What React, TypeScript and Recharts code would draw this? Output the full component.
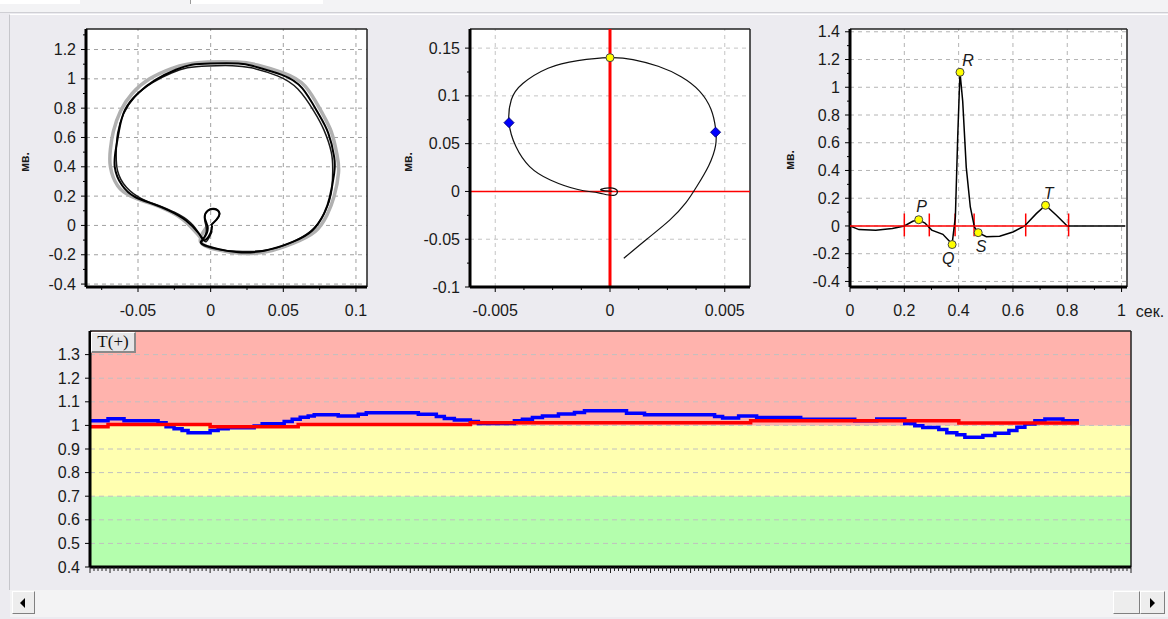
import React from 'react';
import {
  ScatterChart, Scatter, ComposedChart, Line, Area, XAxis, YAxis,
  CartesianGrid, ReferenceLine,
} from 'recharts';

const FONT = '"Liberation Sans", Arial, sans-serif';

// ---- QRS loop (several overlapping cycles) ----
const loopMain = [
  { x: 0.0, y: 0.0 }, { x: 0.004, y: 0.04 }, { x: 0.006, y: 0.08 }, { x: 0.003, y: 0.11 },
  { x: -0.002, y: 0.1 }, { x: -0.004, y: 0.05 }, { x: -0.002, y: -0.02 }, { x: -0.005, y: -0.09 },
  { x: -0.006, y: -0.125 }, { x: 0.005, y: -0.16 }, { x: 0.019, y: -0.183 }, { x: 0.037, y: -0.172 },
  { x: 0.056, y: -0.114 }, { x: 0.07, y: -0.034 }, { x: 0.078, y: 0.08 }, { x: 0.082, y: 0.194 },
  { x: 0.085, y: 0.354 }, { x: 0.085, y: 0.468 }, { x: 0.081, y: 0.628 }, { x: 0.074, y: 0.765 },
  { x: 0.063, y: 0.936 }, { x: 0.049, y: 1.027 }, { x: 0.03, y: 1.085 }, { x: 0.019, y: 1.105 },
  { x: 0.0, y: 1.105 }, { x: -0.013, y: 1.096 }, { x: -0.024, y: 1.062 }, { x: -0.038, y: 0.993 },
  { x: -0.05, y: 0.902 }, { x: -0.059, y: 0.788 }, { x: -0.063, y: 0.65 }, { x: -0.065, y: 0.536 },
  { x: -0.066, y: 0.4 }, { x: -0.061, y: 0.274 }, { x: -0.052, y: 0.194 }, { x: -0.04, y: 0.148 },
  { x: -0.029, y: 0.103 }, { x: -0.017, y: 0.034 }, { x: -0.008, y: -0.057 }, { x: -0.004, y: -0.1 },
  { x: 0.0, y: -0.05 }, { x: 0.001, y: 0.0 },
];
const loopSecond = [
  { x: 0.001, y: 0.01 }, { x: 0.005, y: 0.05 }, { x: 0.006, y: 0.09 }, { x: 0.002, y: 0.115 },
  { x: -0.003, y: 0.09 }, { x: -0.004, y: 0.03 }, { x: -0.003, y: -0.04 }, { x: -0.006, y: -0.11 },
  { x: -0.004, y: -0.14 }, { x: 0.008, y: -0.17 }, { x: 0.022, y: -0.178 }, { x: 0.04, y: -0.165 },
  { x: 0.058, y: -0.105 }, { x: 0.071, y: -0.02 }, { x: 0.079, y: 0.1 }, { x: 0.083, y: 0.22 },
  { x: 0.084, y: 0.37 }, { x: 0.083, y: 0.5 }, { x: 0.078, y: 0.65 }, { x: 0.071, y: 0.78 },
  { x: 0.06, y: 0.93 }, { x: 0.046, y: 1.02 }, { x: 0.028, y: 1.075 }, { x: 0.015, y: 1.09 },
  { x: -0.002, y: 1.088 }, { x: -0.016, y: 1.075 }, { x: -0.027, y: 1.04 }, { x: -0.04, y: 0.975 },
  { x: -0.052, y: 0.88 }, { x: -0.06, y: 0.76 }, { x: -0.064, y: 0.63 }, { x: -0.065, y: 0.5 },
  { x: -0.064, y: 0.37 }, { x: -0.058, y: 0.26 }, { x: -0.048, y: 0.185 }, { x: -0.036, y: 0.135 },
  { x: -0.025, y: 0.09 }, { x: -0.014, y: 0.02 }, { x: -0.007, y: -0.07 }, { x: -0.003, y: -0.11 },
  { x: 0.001, y: -0.04 },
];
const loopGray = [
  { x: -0.002, y: 0.0 }, { x: -0.007, y: -0.11 }, { x: 0.004, y: -0.165 }, { x: 0.02, y: -0.19 },
  { x: 0.038, y: -0.18 }, { x: 0.057, y: -0.12 }, { x: 0.072, y: -0.04 }, { x: 0.08, y: 0.07 },
  { x: 0.085, y: 0.2 }, { x: 0.088, y: 0.36 }, { x: 0.087, y: 0.48 }, { x: 0.083, y: 0.64 },
  { x: 0.076, y: 0.78 }, { x: 0.065, y: 0.95 }, { x: 0.05, y: 1.04 }, { x: 0.032, y: 1.095 },
  { x: 0.018, y: 1.115 }, { x: -0.002, y: 1.115 }, { x: -0.016, y: 1.1 }, { x: -0.027, y: 1.07 },
  { x: -0.042, y: 1.0 }, { x: -0.054, y: 0.9 }, { x: -0.062, y: 0.78 }, { x: -0.067, y: 0.64 },
  { x: -0.069, y: 0.52 }, { x: -0.069, y: 0.4 }, { x: -0.064, y: 0.27 }, { x: -0.055, y: 0.2 },
  { x: -0.043, y: 0.155 }, { x: -0.031, y: 0.11 }, { x: -0.019, y: 0.04 }, { x: -0.009, y: -0.06 },
  { x: -0.005, y: -0.11 },
];
const loopXTicks = [-0.075, -0.05, -0.025, 0, 0.025, 0.05, 0.075, 0.1];
const loopXLabels = [-0.05, 0, 0.05, 0.1];
const loopYTicks = [-0.4, -0.3, -0.2, -0.1, 0, 0.1, 0.2, 0.3, 0.4, 0.5, 0.6, 0.7, 0.8, 0.9, 1, 1.1, 1.2, 1.3];
const loopYLabels = [-0.4, -0.2, 0, 0.2, 0.4, 0.6, 0.8, 1, 1.2];

// ---- T loop ----
const tLoop = [
  { x: 0.0006, y: -0.07 }, { x: 0.0016, y: -0.05 }, { x: 0.0026, y: -0.03 }, { x: 0.0033, y: -0.012 },
  { x: 0.0038, y: 0.006 }, { x: 0.0043, y: 0.027 }, { x: 0.0046, y: 0.048 }, { x: 0.0046, y: 0.066 },
  { x: 0.0044, y: 0.086 }, { x: 0.0039, y: 0.105 }, { x: 0.0031, y: 0.12 }, { x: 0.0021, y: 0.131 },
  { x: 0.001, y: 0.138 }, { x: 0.0, y: 0.14 }, { x: -0.0014, y: 0.137 }, { x: -0.0027, y: 0.129 },
  { x: -0.0038, y: 0.113 }, { x: -0.0043, y: 0.096 }, { x: -0.0044, y: 0.072 }, { x: -0.0041, y: 0.047 },
  { x: -0.0035, y: 0.026 }, { x: -0.0026, y: 0.012 }, { x: -0.0014, y: 0.002 }, { x: -0.0005, y: -0.0015 },
  { x: 0.0002, y: -0.004 }, { x: 0.0002, y: 0.003 }, { x: -0.0004, y: 0.002 }, { x: 0.0001, y: 0.0 },
];
const tLoopApex = [{ x: 0.0, y: 0.14 }];
const tLoopSides = [{ x: -0.0044, y: 0.072 }, { x: 0.0046, y: 0.062 }];
const tXTicks = [-0.005, -0.00375, -0.0025, -0.00125, 0, 0.00125, 0.0025, 0.00375, 0.005];
const tXLabels = [-0.005, 0, 0.005];
const tYTicks = [-0.1, -0.075, -0.05, -0.025, 0, 0.025, 0.05, 0.075, 0.1, 0.125, 0.15];
const tYLabels = [-0.1, -0.05, 0, 0.05, 0.1, 0.15];

// ---- averaged ECG complex ----
const ecg = [
  { x: 0, y: 0 }, { x: 0.033, y: -0.026 }, { x: 0.095, y: -0.03 }, { x: 0.156, y: -0.019 },
  { x: 0.2, y: 0 }, { x: 0.231, y: 0.034 }, { x: 0.253, y: 0.045 }, { x: 0.276, y: 0.021 },
  { x: 0.301, y: -0.03 }, { x: 0.342, y: -0.06 }, { x: 0.376, y: -0.13 }, { x: 0.388, y: 0.065 },
  { x: 0.397, y: 0.665 }, { x: 0.405, y: 1.108 }, { x: 0.415, y: 0.9 }, { x: 0.428, y: 0.424 },
  { x: 0.443, y: 0.137 }, { x: 0.458, y: -0.007 }, { x: 0.472, y: -0.048 }, { x: 0.502, y: -0.078 },
  { x: 0.551, y: -0.074 }, { x: 0.6, y: -0.043 }, { x: 0.643, y: 0 }, { x: 0.686, y: 0.089 },
  { x: 0.72, y: 0.149 }, { x: 0.76, y: 0.077 }, { x: 0.8, y: 0 }, { x: 1.013, y: 0 },
];
const ecgPeaks = [
  { x: 0.253, y: 0.045, name: 'P' },
  { x: 0.376, y: -0.134, name: 'Q' },
  { x: 0.405, y: 1.108, name: 'R' },
  { x: 0.472, y: -0.048, name: 'S' },
  { x: 0.72, y: 0.149, name: 'T' },
];
const ecgBaseline = [{ x: 0, y: 0 }, { x: 0.805, y: 0 }];
const ecgMarks = [0.2, 0.292, 0.387, 0.457, 0.647, 0.805];
const ecgXTicks = [0, 0.1, 0.2, 0.3, 0.4, 0.5, 0.6, 0.7, 0.8, 0.9, 1];
const ecgXLabels = [0, 0.2, 0.4, 0.6, 0.8, 1];
const ecgYTicks = [-0.4, -0.3, -0.2, -0.1, 0, 0.1, 0.2, 0.3, 0.4, 0.5, 0.6, 0.7, 0.8, 0.9, 1, 1.1, 1.2, 1.3, 1.4];
const ecgYLabels = [-0.4, -0.2, 0, 0.2, 0.4, 0.6, 0.8, 1, 1.2, 1.4];

// ---- T(+) trend ----
const trendBlue = [
  { x: 0, v: 1.02 }, { x: 4.5, v: 1.028 }, { x: 8.5, v: 1.02 }, { x: 17, v: 1.011 },
  { x: 19, v: 0.994 }, { x: 21, v: 0.986 }, { x: 23, v: 0.978 }, { x: 24.5, v: 0.969 },
  { x: 30, v: 0.978 }, { x: 32, v: 0.986 }, { x: 34.5, v: 0.99 }, { x: 41, v: 0.997 },
  { x: 43, v: 1.007 }, { x: 48.5, v: 1.017 }, { x: 50.5, v: 1.026 }, { x: 52.5, v: 1.035 },
  { x: 54.5, v: 1.04 }, { x: 56, v: 1.045 }, { x: 62, v: 1.04 }, { x: 67, v: 1.047 },
  { x: 69, v: 1.054 }, { x: 82, v: 1.047 }, { x: 86.5, v: 1.038 }, { x: 88.5, v: 1.029 },
  { x: 91, v: 1.023 }, { x: 95, v: 1.016 }, { x: 97, v: 1.008 }, { x: 106, v: 1.02 },
  { x: 108, v: 1.026 }, { x: 110.5, v: 1.033 }, { x: 113, v: 1.04 }, { x: 117, v: 1.048 },
  { x: 121, v: 1.055 }, { x: 123.5, v: 1.062 }, { x: 134, v: 1.052 }, { x: 138.5, v: 1.045 },
  { x: 156, v: 1.038 }, { x: 158, v: 1.031 }, { x: 162, v: 1.04 }, { x: 166.5, v: 1.033 },
  { x: 177.5, v: 1.026 }, { x: 191, v: 1.02 }, { x: 196.5, v: 1.027 }, { x: 203.5, v: 1.008 },
  { x: 206, v: 0.999 }, { x: 208, v: 0.991 }, { x: 212, v: 0.983 }, { x: 214, v: 0.969 },
  { x: 216.5, v: 0.96 }, { x: 218.5, v: 0.95 }, { x: 223, v: 0.957 }, { x: 226, v: 0.967 },
  { x: 229.5, v: 0.978 }, { x: 231.5, v: 0.992 }, { x: 233.5, v: 1.006 }, { x: 236, v: 1.02 },
  { x: 238.5, v: 1.027 }, { x: 243, v: 1.02 }, { x: 247, v: 1.02 },
];
const trendRed = [
  { x: 0, v: 0.994 }, { x: 4.5, v: 1.004 }, { x: 30, v: 0.994 }, { x: 52, v: 1.004 },
  { x: 95, v: 1.011 }, { x: 165, v: 1.02 }, { x: 217, v: 1.01 }, { x: 247, v: 1.01 },
];
const zoneBounds = [0.4, 0.7, 1.0, 1.4];
const zoneColors = ['#B4FEAD', '#FFFFB0', '#FFB3AD'];
const trendYTicks = [0.4, 0.5, 0.6, 0.7, 0.8, 0.9, 1, 1.1, 1.2, 1.3];
const trendXMax = 260;
const trendXTicks = Array.from({ length: trendXMax + 1 }, (_, i) => i);

const zoneData = zoneColors.map((_, i) => [
  { x: 0, band: [zoneBounds[i], zoneBounds[i + 1]] },
  { x: trendXMax, band: [zoneBounds[i], zoneBounds[i + 1]] },
]);

const axisStyle = { stroke: '#000', strokeWidth: 3 };
const gridStyle = { stroke: '#A0A0A0', strokeDasharray: '4 4', strokeWidth: 1 };

// custom ticks: short tick for every value, label only for majors
const leftTick = (labels: number[]) => (props: any) => {
  const { x, y, payload } = props;
  const isLabel = labels.includes(payload.value);
  return (
    <g>
      <line x1={x - (isLabel ? 5 : 3)} x2={x} y1={y} y2={y} stroke="#000" />
      {isLabel && (
        <text x={x - 10} y={y} dy="0.35em" textAnchor="end" fontSize={16} fontFamily={FONT} fill="#1a1a1a">
          {payload.value}
        </text>
      )}
    </g>
  );
};

const bottomTick = (labels: number[]) => (props: any) => {
  const { x, y, payload } = props;
  const isLabel = labels.includes(payload.value);
  return (
    <g>
      <line x1={x} x2={x} y1={y} y2={y + (isLabel ? 5 : 3)} stroke="#000" />
      {isLabel && (
        <text x={x} y={y + 23} dy="0.35em" textAnchor="middle" fontSize={16} fontFamily={FONT} fill="#1a1a1a">
          {payload.value}
        </text>
      )}
    </g>
  );
};

const rulerTick = (props: any) => {
  const { x, y, payload } = props;
  return <line x1={x} x2={x} y1={y} y2={y + (payload.value % 5 === 0 ? 6 : 4)} stroke="#222" />;
};

const renderNothing = () => <g />;

const yellowDot = (props: any) => (
  <circle cx={props.cx} cy={props.cy} r={4} fill="#FFFF00" stroke="#444" strokeWidth={1} />
);

const blueDiamond = (props: any) => (
  <path
    d={`M${props.cx},${props.cy - 5}L${props.cx + 5},${props.cy}L${props.cx},${props.cy + 5}L${props.cx - 5},${props.cy}Z`}
    fill="#0000FF"
    stroke="#000080"
  />
);

const peakLabelOffset: Record<string, [number, number]> = {
  P: [3, -13], Q: [-4, 14], R: [8, -12], S: [3, 14], T: [3, -12],
};

const peakMarker = (props: any) => {
  const [dx, dy] = peakLabelOffset[props.payload.name];
  return (
    <g>
      <circle cx={props.cx} cy={props.cy} r={4} fill="#FFFF00" stroke="#444" strokeWidth={1} />
      <text x={props.cx + dx} y={props.cy + dy} dy="0.35em" textAnchor="middle" fontSize={16}
        fontStyle="italic" fontFamily={FONT} fill="#1a1a1a">
        {props.payload.name}
      </text>
    </g>
  );
};

const AxisName = ({ x, y, text, rotate }: { x: number; y: number; text: string; rotate?: boolean }) => (
  <span
    style={{
      position: 'absolute', left: x, top: y, fontSize: rotate ? 12 : 16, fontWeight: rotate ? 'bold' : 'normal',
      color: '#1a1a1a', transform: `translate(-50%, -50%)${rotate ? ' rotate(-90deg)' : ''}`, whiteSpace: 'nowrap',
    }}
  >
    {text}
  </span>
);

const LoopChart = () => {
  const xd: [number, number] = [-0.0858, 0.1076];
  const yd: [number, number] = [-0.42, 1.34];
  return (
    <ScatterChart width={380} height={330} margin={{ top: 29, right: 13, bottom: 13, left: 36 }}>
      <CartesianGrid horizontal={false} vertical={false} fill="#fff" />
      <XAxis type="number" dataKey="x" domain={xd} ticks={loopXTicks} interval={0} tickSize={0}
        tickMargin={0} tick={bottomTick(loopXLabels)} axisLine={axisStyle} height={30} allowDataOverflow />
      <YAxis type="number" dataKey="y" domain={yd} ticks={loopYTicks} interval={0} tickSize={0}
        tickMargin={0} tick={leftTick(loopYLabels)} axisLine={axisStyle} width={50} allowDataOverflow />
      {loopXLabels.map((v) => <ReferenceLine key={'gx' + v} x={v} {...gridStyle} />)}
      {loopYLabels.map((v) => <ReferenceLine key={'gy' + v} y={v} {...gridStyle} />)}
      <ReferenceLine y={yd[1]} stroke="#222" strokeWidth={1.5} />
      <ReferenceLine x={xd[1]} stroke="#222" strokeWidth={1.5} />
      <Scatter data={loopGray} fill="#B0B0B0" line={{ strokeWidth: 3.5 }} lineJointType="natural" shape={renderNothing} isAnimationActive={false} />
      <Scatter data={loopSecond} fill="#1a1a1a" line={{ strokeWidth: 1.5 }} lineJointType="natural" shape={renderNothing} isAnimationActive={false} />
      <Scatter data={loopMain} fill="#000" line={{ strokeWidth: 2 }} lineJointType="natural" shape={renderNothing} isAnimationActive={false} />
    </ScatterChart>
  );
};

const TLoopChart = () => {
  const xd: [number, number] = [-0.0061, 0.0061];
  const yd: [number, number] = [-0.1, 0.17];
  return (
    <ScatterChart width={400} height={330} margin={{ top: 29, right: 30, bottom: 13, left: 30 }}>
      <CartesianGrid horizontal={false} vertical={false} fill="#fff" />
      <XAxis type="number" dataKey="x" domain={xd} ticks={tXTicks} interval={0} tickSize={0}
        tickMargin={0} tick={bottomTick(tXLabels)} axisLine={axisStyle} height={30} allowDataOverflow />
      <YAxis type="number" dataKey="y" domain={yd} ticks={tYTicks} interval={0} tickSize={0}
        tickMargin={0} tick={leftTick(tYLabels)} axisLine={axisStyle} width={60} allowDataOverflow />
      {tXLabels.map((v) => <ReferenceLine key={'gx' + v} x={v} {...gridStyle} stroke="#C4C4C4" />)}
      {tYLabels.map((v) => <ReferenceLine key={'gy' + v} y={v} {...gridStyle} stroke="#C4C4C4" />)}
      <ReferenceLine y={yd[1]} stroke="#222" strokeWidth={1.5} />
      <ReferenceLine x={xd[1]} stroke="#222" strokeWidth={1.5} />
      <ReferenceLine y={0} stroke="#FF0000" strokeWidth={1.5} />
      <ReferenceLine x={0} stroke="#FF0000" strokeWidth={3} />
      <Scatter data={tLoop} fill="#111" line={{ strokeWidth: 1.2 }} lineJointType="natural" shape={renderNothing} isAnimationActive={false} />
      <Scatter data={tLoopSides} fill="#0000FF" shape={blueDiamond} isAnimationActive={false} />
      <Scatter data={tLoopApex} fill="#FFFF00" shape={yellowDot} isAnimationActive={false} />
    </ScatterChart>
  );
};

const EcgChart = () => {
  const xd: [number, number] = [0, 1.02];
  const yd: [number, number] = [-0.44, 1.42];
  return (
    <ScatterChart width={388} height={330} margin={{ top: 29, right: 41, bottom: 13, left: 20 }}>
      <CartesianGrid horizontal={false} vertical={false} fill="#fff" />
      <XAxis type="number" dataKey="x" domain={xd} ticks={ecgXTicks} interval={0} tickSize={0}
        tickMargin={0} tick={bottomTick(ecgXLabels)} axisLine={axisStyle} height={30} allowDataOverflow />
      <YAxis type="number" dataKey="y" domain={yd} ticks={ecgYTicks} interval={0} tickSize={0}
        tickMargin={0} tick={leftTick(ecgYLabels)} axisLine={axisStyle} width={50} allowDataOverflow />
      {ecgXLabels.filter((v) => v > 0).map((v) => <ReferenceLine key={'gx' + v} x={v} {...gridStyle} stroke="#B4B4B4" />)}
      {ecgYLabels.map((v) => <ReferenceLine key={'gy' + v} y={v} {...gridStyle} stroke="#B4B4B4" />)}
      <ReferenceLine y={yd[1]} stroke="#222" strokeWidth={1.5} />
      <ReferenceLine x={xd[1]} stroke="#222" strokeWidth={1.5} />
      <Scatter data={ecg} fill="#000" line={{ strokeWidth: 1.5 }} shape={renderNothing} isAnimationActive={false} />
      <Scatter data={ecgBaseline} fill="#FF0000" line={{ strokeWidth: 1.5 }} shape={renderNothing} isAnimationActive={false} />
      {ecgMarks.map((v) => (
        <ReferenceLine key={'m' + v} segment={[{ x: v, y: -0.075 }, { x: v, y: 0.09 }]} stroke="#FF0000" strokeWidth={1.5} />
      ))}
      <Scatter data={ecgPeaks} fill="#FFFF00" shape={peakMarker} isAnimationActive={false} />
    </ScatterChart>
  );
};

const TrendChart = () => (
  <ComposedChart width={1168} height={270} margin={{ top: 11, right: 37, bottom: 3, left: 30 }}>
    <XAxis type="number" dataKey="x" domain={[0, trendXMax]} ticks={trendXTicks} interval={0} tickSize={0}
      tickMargin={0} tick={rulerTick} axisLine={axisStyle} height={20} allowDataOverflow />
    <YAxis type="number" domain={[0.4, 1.4]} ticks={trendYTicks} interval={0} tickSize={0}
      tickMargin={0} tick={leftTick(trendYTicks)} axisLine={axisStyle} width={60} allowDataOverflow />
    {zoneColors.map((c, i) => (
      <Area key={c} data={zoneData[i]} dataKey="band" type="linear" fill={c} fillOpacity={1}
        stroke="none" isAnimationActive={false} />
    ))}
    {trendYTicks.slice(1).map((v) => (
      <ReferenceLine key={'gy' + v} y={v} stroke="#C0C0C0" strokeDasharray="5 4" />
    ))}
    <ReferenceLine y={1.4} stroke="#222" strokeWidth={1.5} />
    <ReferenceLine x={trendXMax} stroke="#222" strokeWidth={1.5} />
    <Line data={trendBlue} dataKey="v" type="stepAfter" stroke="#0000FF" strokeWidth={3.5} dot={false} isAnimationActive={false} />
    <Line data={trendRed} dataKey="v" type="stepAfter" stroke="#FF0000" strokeWidth={3.5} dot={false} isAnimationActive={false} />
  </ComposedChart>
);

const btn: React.CSSProperties = {
  position: 'absolute', top: 591, width: 23, height: 23, background: '#EDEDED', boxSizing: 'border-box',
  borderTop: '1px solid #fff', borderLeft: '1px solid #fff', borderRight: '1px solid #808080', borderBottom: '1px solid #808080',
};

export default function App() {
  return (
    <div style={{ position: 'absolute', left: 0, top: 0, width: 1168, height: 619, background: '#ECEBF0', overflow: 'hidden', fontFamily: FONT }}>
      {/* tab strip */}
      <div style={{ position: 'absolute', left: 0, top: 0, width: 1168, height: 12, background: '#F3F3F5', borderBottom: '1px solid #CFCFD4' }} />
      <div style={{ position: 'absolute', left: 0, top: 0, width: 80, height: 4, background: '#fff' }} />
      <div style={{ position: 'absolute', left: 190, top: 0, width: 132, height: 4, background: '#fff', borderLeft: '1px solid #999' }} />
      <div style={{ position: 'absolute', left: 9, top: 14, width: 1159, height: 575, borderLeft: '1px solid #C6C6CB', borderTop: '1px solid #fff' }} />

      <div style={{ position: 'absolute', left: 0, top: 0 }}><LoopChart /></div>
      <div style={{ position: 'absolute', left: 380, top: 0 }}><TLoopChart /></div>
      <div style={{ position: 'absolute', left: 780, top: 0 }}><EcgChart /></div>
      <div style={{ position: 'absolute', left: 0, top: 320 }}><TrendChart /></div>

      <AxisName x={25} y={162} text="мв." rotate />
      <AxisName x={408} y={162} text="мв." rotate />
      <AxisName x={790} y={160} text="мв." rotate />
      <AxisName x={1150} y={312} text="сек." />

      <div style={{ position: 'absolute', left: 91, top: 332, width: 45, height: 21, boxSizing: 'border-box', background: '#E6E6E8',
        borderTop: '1px solid #fff', borderLeft: '1px solid #fff', borderRight: '2px solid #8A8A8A', borderBottom: '2px solid #8A8A8A',
        fontFamily: '"Liberation Serif", serif', fontSize: 17, lineHeight: '18px', textAlign: 'center', color: '#111' }}>
        T(+)
      </div>

      {/* scrollbar */}
      <div style={{ position: 'absolute', left: 10, top: 590, width: 1158, height: 27, background: '#F3F3F4' }} />
      <div style={{ ...btn, left: 12 }}>
        <div style={{ position: 'absolute', left: 7, top: 6, width: 0, height: 0, borderTop: '5px solid transparent', borderBottom: '5px solid transparent', borderRight: '5px solid #000' }} />
      </div>
      <div style={{ ...btn, left: 1113, width: 27 }} />
      <div style={{ ...btn, left: 1140, width: 25 }}>
        <div style={{ position: 'absolute', left: 9, top: 6, width: 0, height: 0, borderTop: '5px solid transparent', borderBottom: '5px solid transparent', borderLeft: '5px solid #000' }} />
      </div>
    </div>
  );
}
